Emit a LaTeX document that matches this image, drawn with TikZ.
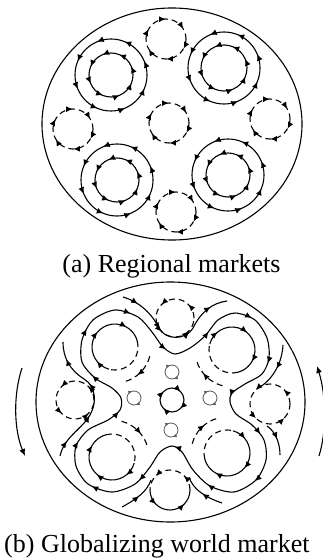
\documentclass[tikz,border=0pt]{standalone}
\usepackage{fontspec}
\setmainfont{Liberation Serif}
\usetikzlibrary{arrows.meta,decorations.markings}

\tikzset{
  line/.style={line width=1.1pt},
  brokenline/.style={dash pattern=on 6pt off 4pt},
  tinyline/.style={gray!70!black,line width=0.8pt},
  flow/.style args={#1 by #2}{postaction={decorate},decoration={markings,
      mark=between positions #1 and 1 step #2 with {\arrow{Latex[length=6.5pt,width=6pt]}}}},
  oneflow/.style={postaction={decorate},decoration={markings,
      mark=at position #1 with {\arrow{Latex[length=6.5pt,width=6pt]}}}},
  tinyflow/.style={postaction={decorate},decoration={markings,
      mark=between positions 0.2 and 1 step 0.5 with {\arrow{Latex[length=3.5pt,width=3.5pt]}}}},
  caption/.style={inner sep=0pt,font=\fontsize{26}{30}\selectfont},
}

\begin{document}
\begin{tikzpicture}[x=1pt,y=-1pt]
  \useasboundingbox (0,0) rectangle (322,559);

  % (a) regional markets
  \coordinate (UL) at (111,75);
  \coordinate (UR) at (224,68);
  \coordinate (LL) at (117,180);
  \coordinate (LR) at (228,175);
  \coordinate (T1) at (166,39);
  \coordinate (T2) at (73,129);
  \coordinate (T3) at (169,123);
  \coordinate (T4) at (270,119);
  \coordinate (T5) at (176,212);

  \draw[line] (172,124) ellipse [x radius=130, y radius=116];

  \draw[line,flow=0.0625 by 0.125] (UL) ++(0:36) arc[start angle=0,end angle=-360,radius=36];
  \draw[line,flow=0.0625 by 0.125] (UL) ++(0:22) arc[start angle=0,end angle=-360,radius=22];
  \draw[line,flow=0.0625 by 0.125] (UR) ++(0:36) arc[start angle=0,end angle=-360,radius=36];
  \draw[line,flow=0.0625 by 0.125] (UR) ++(0:23) arc[start angle=0,end angle=-360,radius=23];
  \draw[line,flow=0.0625 by 0.125] (LL) ++(0:36) arc[start angle=0,end angle=-360,radius=36];
  \draw[line,flow=0.0625 by 0.125] (LL) ++(0:22) arc[start angle=0,end angle=-360,radius=22];
  \draw[line,flow=0.0625 by 0.125] (LR) ++(0:36) arc[start angle=0,end angle=-360,radius=36];
  \draw[line,flow=0.0625 by 0.125] (LR) ++(0:22) arc[start angle=0,end angle=-360,radius=22];

  \draw[line,brokenline,flow=0.08 by 0.1667] (T1) ++(0:20) arc[start angle=0,end angle=360,radius=20];
  \draw[line,brokenline,flow=0.08 by 0.1667] (T2) ++(0:20) arc[start angle=0,end angle=360,radius=20];
  \draw[line,brokenline,flow=0.08 by 0.1667] (T3) ++(0:20) arc[start angle=0,end angle=360,radius=20];
  \draw[line,brokenline,flow=0.08 by 0.1667] (T4) ++(0:20) arc[start angle=0,end angle=360,radius=20];
  \draw[line,brokenline,flow=0.08 by 0.1667] (T5) ++(0:20) arc[start angle=0,end angle=360,radius=20];

  \node[caption,anchor=base] (capA) at (171.5,272) {(a) Regional markets};

  % (b) globalizing world market
  \coordinate (O) at (172,400);
  \coordinate (QUL) at (115,347);
  \coordinate (QUR) at (232,350);
  \coordinate (QLL) at (112,457);
  \coordinate (QLR) at (227,453);
  \coordinate (DT) at (175,318);
  \coordinate (DL) at (75,400);
  \coordinate (DR) at (270,404);
  \coordinate (DB) at (170,490);
  \coordinate (ST) at (172,372);
  \coordinate (SB) at (171,430);
  \coordinate (SL) at (134,398);
  \coordinate (SR) at (210,398);

  \draw[line] (170.5,402) ellipse [x radius=134.5, y radius=120];

  % swirl outside the market
  \draw[line,-{Latex[length=7pt,width=6pt]}] (22,368) .. controls (13,395) and (14,430) .. (25,456);
  \draw[line,-{Latex[length=7pt,width=6pt]}] (319,456) .. controls (327,430) and (326,395) .. (317,366);

  % four-lobed stream line
  \draw[line,flow=0.03 by 0.0625] plot[smooth cycle] coordinates {
    (175,354) (190,348) (205,336) (218,320) (235,313) (255,320) (267,338)
    (269,358) (262,374) (245,384) (232,393) (230,402) (236,414) (252,425)
    (264,440) (266,460) (256,480) (234,492) (210,486) (193,470) (182,452)
    (172,446) (160,452) (150,467) (135,484) (112,492) (88,484) (76,466)
    (76,446) (88,430) (108,420) (120,410) (121,398) (112,388) (95,378)
    (82,362) (82,340) (93,320) (115,310) (138,317) (152,332) (163,347)};

  \draw[line,flow=0.12 by 0.25] (123,297) .. controls (140,302) and (152,314) .. (159,328)
    .. controls (165,340) and (185,341) .. (193,328)
    .. controls (201,312) and (212,303) .. (227,301);
  \draw[line,flow=0.12 by 0.25] (60,456) .. controls (64,438) and (80,430) .. (88,418)
    .. controls (98,404) and (96,386) .. (84,379)
    .. controls (70,370) and (63,358) .. (63,342);
  \draw[line,oneflow=0.5] (283,345) .. controls (282,362) and (274,378) .. (260,387);
  \draw[line,oneflow=0.5] (267,426) .. controls (276,432) and (280,444) .. (280,455);
  \draw[line,oneflow=0.5] (122,507) .. controls (135,500) and (147,492) .. (151,480);
  \draw[line,oneflow=0.5] (222,503) .. controls (207,498) and (193,490) .. (189,477);

  % quadrant markets
  \draw[line,flow=0.15 by 0.33] (QUL) ++(105:23) arc[start angle=105,end angle=345,radius=23];
  \draw[line,brokenline] (QUL) ++(-15:23) arc[start angle=-15,end angle=105,radius=23];
  \draw[line,flow=0.15 by 0.33] (QUR) ++(195:23) arc[start angle=195,end angle=435,radius=23];
  \draw[line,brokenline] (QUR) ++(75:23) arc[start angle=75,end angle=195,radius=23];
  \draw[line,flow=0.15 by 0.33] (QLR) ++(285:23) arc[start angle=285,end angle=525,radius=23];
  \draw[line,brokenline] (QLR) ++(165:23) arc[start angle=165,end angle=285,radius=23];
  \draw[line,flow=0.15 by 0.33] (QLL) ++(15:23) arc[start angle=15,end angle=255,radius=23];
  \draw[line,brokenline] (QLL) ++(255:23) arc[start angle=255,end angle=375,radius=23];

  \draw[line,brokenline,oneflow=0.6] (QUL) ++(15:36) arc[start angle=15,end angle=75,radius=36];
  \draw[line,brokenline,oneflow=0.6] (QUR) ++(105:37) arc[start angle=105,end angle=165,radius=37];
  \draw[line,brokenline,oneflow=0.6] (QLR) ++(195:36) arc[start angle=195,end angle=255,radius=36];
  \draw[line,brokenline,oneflow=0.6] (QLL) ++(285:37) arc[start angle=285,end angle=345,radius=37];

  % markets between the lobes
  \draw[line,brokenline,flow=0.125 by 0.25] (DT) ++(0:19) arc[start angle=0,end angle=-360,radius=19];
  \draw[line,brokenline,flow=0.125 by 0.25] (DL) ++(0:19) arc[start angle=0,end angle=-360,radius=19];
  \draw[line,brokenline,flow=0.125 by 0.25] (DR) ++(0:20) arc[start angle=0,end angle=-360,radius=20];
  \draw[line,brokenline,flow=0.25 by 0.5] (DB) ++(0:20) arc[start angle=360,end angle=180,radius=20];
  \draw[line,flow=0.25 by 0.5] (DB) ++(180:20) arc[start angle=180,end angle=0,radius=20];

  % centre
  \draw[line,flow=0.125 by 0.25] (O) ++(0:12) arc[start angle=0,end angle=360,radius=12];
  \draw[tinyline,tinyflow] (ST) ++(0:7) arc[start angle=0,end angle=360,radius=7];
  \draw[tinyline,tinyflow] (SB) ++(0:7) arc[start angle=0,end angle=360,radius=7];
  \draw[tinyline,tinyflow] (SL) ++(0:7) arc[start angle=0,end angle=360,radius=7];
  \draw[tinyline,tinyflow] (SR) ++(0:7) arc[start angle=0,end angle=360,radius=7];

  \node[caption,anchor=base west] (capB) at (4,552) {(b) Globalizing world market};
\end{tikzpicture}
\end{document}
